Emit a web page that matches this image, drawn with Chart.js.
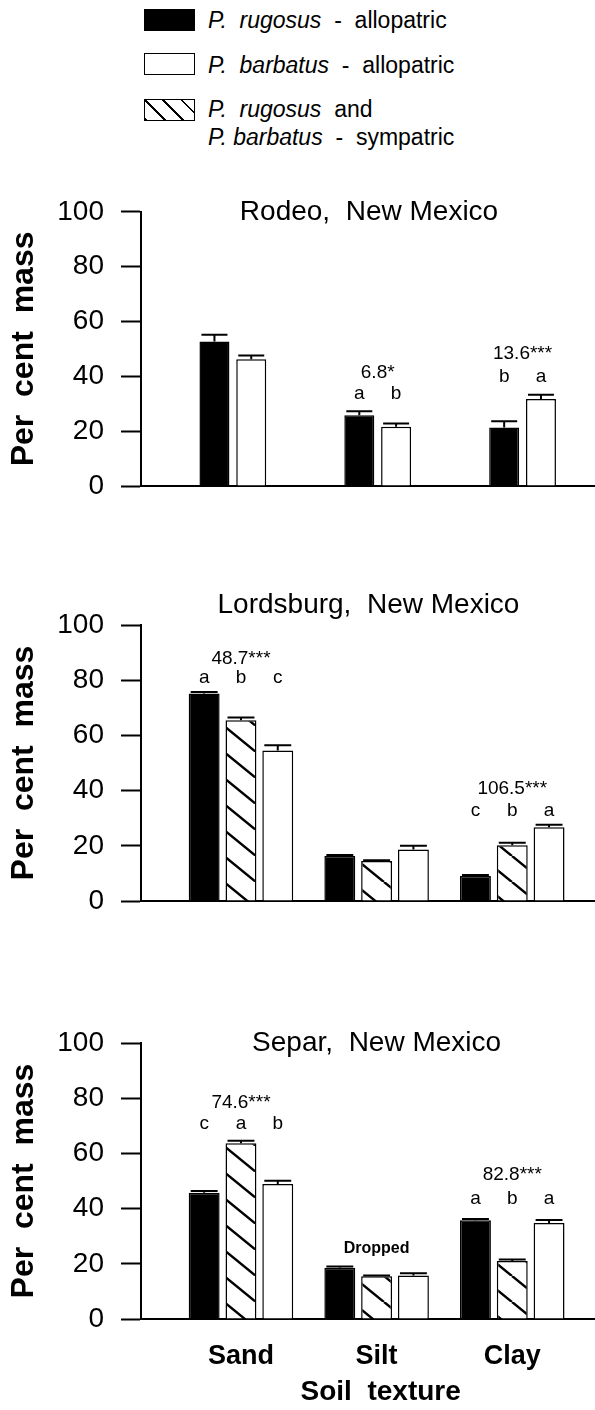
<!DOCTYPE html>
<html>
<head>
<meta charset="utf-8">
<script src="https://cdn.jsdelivr.net/npm/chart.js@4.4.1/dist/chart.umd.min.js"></script>
<style>
  body { margin: 0; background: #fff; width: 595px; height: 1410px; position: relative; overflow: hidden;
         font-family: "Liberation Sans", Arial, sans-serif; color: #000; }
  .swatch { position: absolute; left: 144px; width: 49px; height: 20px; border: 1.5px solid #000; }
  .swatch.black { background: #000; }
  .swatch.white { background: #fff; }
  .swatch.hatch { background: repeating-linear-gradient(45deg, #000 0 2px, #fff 2px 13px); }
  .legend-text { position: absolute; left: 208px; font-size: 23px; line-height: 28px; white-space: pre; }
  canvas { position: absolute; left: 0; }
</style>
</head>
<body>

<!-- legend -->
<div class="swatch black" style="top:9px"></div>
<div class="legend-text" style="top:6px"><i>P.  rugosus</i>  -  allopatric</div>
<div class="swatch white" style="top:53px"></div>
<div class="legend-text" style="top:51px"><i>P.  barbatus</i>  -  allopatric</div>
<div class="swatch hatch" style="top:99px"></div>
<div class="legend-text" style="top:95px"><i>P.  rugosus</i>  and
<i>P. barbatus</i>  -  sympatric</div>

<canvas id="rodeo" width="595" height="348" style="top:178px"></canvas>
<canvas id="lordsburg" width="595" height="371" style="top:570px"></canvas>
<canvas id="separ" width="595" height="420" style="top:990px"></canvas>

<script>
// ================================================
// DATA (per cent mass)
// ================================================

const soilTypes = ['Sand', 'Silt', 'Clay'];

// Rodeo
const rodeoRugosus = [52.7, 25.8, 21.3];
const rodeoRugosusErr = [2.5, 1.5, 2.3];
const rodeoBarbatus = [46.2, 21.6, 31.7];
const rodeoBarbatusErr = [1.4, 1.2, 1.6];

// Lordsburg
const lordsRugosus = [75.2, 16.3, 9.1];
const lordsRugosusErr = [0.5, 0.4, 0.3];
const lordsSympatric = [65.5, 14.5, 20.2];
const lordsSympatricErr = [1.0, 0.3, 0.9];
const lordsBarbatus = [54.5, 18.7, 26.7];
const lordsBarbatusErr = [1.9, 1.3, 0.9];

// Separ
const separRugosus = [45.7, 18.6, 35.8];
const separRugosusErr = [0.7, 0.4, 0.4];
const separSympatric = [63.7, 15.5, 21.0];
const separSympatricErr = [0.9, 0.3, 0.6];
const separBarbatus = [48.9, 15.8, 34.8];
const separBarbatusErr = [1.2, 0.8, 1.1];

// test statistics and letter groups
const rodeoStats = [
    { group: 1, text: '6.8*', y: 41.2, letters: ['a', 'b'], lettersY: 33.5 },
    { group: 2, text: '13.6***', y: 48.4, letters: ['b', 'a'], lettersY: 40 }
];
const lordsStats = [
    { group: 0, text: '48.7***', y: 87.7, letters: ['a', 'b', 'c'], lettersY: 80.8 },
    { group: 2, text: '106.5***', y: 40.6, letters: ['c', 'b', 'a'], lettersY: 32.6 }
];
const separStats = [
    { group: 0, text: '74.6***', y: 78.5, letters: ['c', 'a', 'b'], lettersY: 70.9 },
    { group: 2, text: '82.8***', y: 52.1, letters: ['a', 'b', 'a'], lettersY: 43.7 }
];

// ================================================
// HELPERS
// ================================================

Chart.defaults.font.family = '"Liberation Sans", Arial, sans-serif';
Chart.defaults.color = '#000';

function makeHatch() {
    const w = 32, h = 26;
    const c = document.createElement('canvas');
    c.width = w; c.height = h;
    const g = c.getContext('2d');
    g.fillStyle = '#fff';
    g.fillRect(0, 0, w, h);
    g.strokeStyle = '#000';
    g.lineWidth = 2.5;
    g.beginPath();
    [-w, 0, w].forEach(dx => {
        g.moveTo(dx, 0);
        g.lineTo(dx + w, h);
    });
    g.stroke();
    return g.createPattern(c, 'repeat');
}

const hatch = makeHatch();

function barSet(label, values, errors, fill, catPct, barPct) {
    return {
        label: label,
        data: values.map((v, i) => ({ x: i, y: v })),
        errors: errors,
        backgroundColor: fill,
        borderColor: '#000',
        borderWidth: 1.5,
        categoryPercentage: catPct,
        barPercentage: barPct
    };
}

// upper whisker + cap for each bar
const errorBars = {
    id: 'errorBars',
    afterDatasetsDraw(chart) {
        const ctx = chart.ctx;
        const y = chart.scales.y;
        ctx.save();
        ctx.strokeStyle = '#000';
        ctx.lineWidth = 2;
        chart.data.datasets.forEach((ds, di) => {
            chart.getDatasetMeta(di).data.forEach((bar, i) => {
                const p = bar.getProps(['x', 'width'], true);
                const y0 = y.getPixelForValue(ds.data[i].y);
                const y1 = y.getPixelForValue(ds.data[i].y + ds.errors[i]);
                const half = p.width / 2 - 2;
                ctx.beginPath();
                ctx.moveTo(p.x, y0);
                ctx.lineTo(p.x, y1);
                ctx.moveTo(p.x - half, y1);
                ctx.lineTo(p.x + half, y1);
                ctx.stroke();
            });
        });
        ctx.restore();
    }
};

const textFonts = {
    title: '28px "Liberation Sans", Arial, sans-serif',
    stat: '19px "Liberation Sans", Arial, sans-serif',
    note: 'bold 16px "Liberation Sans", Arial, sans-serif',
    axis: 'bold 28px "Liberation Sans", Arial, sans-serif'
};

function textLayer(notes, stats) {
    return {
        id: 'textLayer',
        afterDraw(chart) {
            const ctx = chart.ctx;
            const x = chart.scales.x, y = chart.scales.y;
            ctx.save();
            ctx.fillStyle = '#000';
            ctx.textAlign = 'center';
            ctx.textBaseline = 'middle';
            notes.forEach(n => {
                ctx.font = textFonts[n.kind];
                ctx.fillText(n.text, x.getPixelForValue(n.x), y.getPixelForValue(n.y));
            });
            ctx.font = textFonts.stat;
            stats.forEach(s => {
                ctx.fillText(s.text, x.getPixelForValue(s.group), y.getPixelForValue(s.y));
                s.letters.forEach((l, j) => {
                    const bar = chart.getDatasetMeta(j).data[s.group];
                    ctx.fillText(l, bar.x, y.getPixelForValue(s.lettersY));
                });
            });
            ctx.restore();
        }
    };
}

function buildPanel(id, o) {
    return new Chart(document.getElementById(id), {
        type: 'bar',
        data: { datasets: o.datasets },
        options: {
            responsive: false,
            animation: false,
            layout: { padding: { top: o.top, left: 0, right: 0, bottom: 0 } },
            plugins: {
                legend: { display: false },
                tooltip: { enabled: false }
            },
            scales: {
                x: {
                    type: 'linear',
                    offset: false,
                    min: o.xMin,
                    max: o.xMax,
                    afterBuildTicks: s => { s.ticks = soilTypes.map((_, i) => ({ value: i })); },
                    afterFit: s => { s.height = o.xHeight; },
                    grid: { display: false },
                    border: { color: '#000', width: 2 },
                    ticks: {
                        display: o.showLabels,
                        callback: v => soilTypes[v],
                        font: { size: 27, weight: 'bold' },
                        color: '#000',
                        padding: 13
                    }
                },
                y: {
                    min: 0,
                    max: 100,
                    afterFit: s => { s.width = 141; },
                    border: { color: '#000', width: 2 },
                    grid: {
                        drawOnChartArea: false,
                        tickLength: 20,
                        tickWidth: 2,
                        tickColor: '#000',
                        tickBorderDash: c => (c.tick && c.tick.value % 20) ? [0, 12, 8, 60] : []
                    },
                    ticks: {
                        stepSize: 10,
                        callback: v => v % 20 === 0 ? v : '',
                        font: { size: 28 },
                        color: '#000',
                        padding: 17
                    },
                    title: {
                        display: true,
                        text: 'Per  cent  mass',
                        font: { size: 32, weight: 'bold' },
                        color: '#000',
                        padding: { top: 5, bottom: 0 }
                    }
                }
            }
        },
        plugins: [errorBars, textLayer(o.notes, o.stats)]
    });
}

// ================================================
// PANELS
// ================================================

buildPanel('rodeo', {
    top: 33, xHeight: 40, xMin: -0.634, xMax: 2.5, showLabels: false,
    datasets: [
        barSet('P. rugosus - allopatric', rodeoRugosus, rodeoRugosusErr, '#000', 0.508, 0.815),
        barSet('P. barbatus - allopatric', rodeoBarbatus, rodeoBarbatusErr, '#fff', 0.508, 0.815)
    ],
    notes: [{ kind: 'title', text: 'Rodeo,  New Mexico', x: 0.94, y: 100 }],
    stats: rodeoStats
});

buildPanel('lordsburg', {
    top: 55, xHeight: 40, xMin: -0.737, xMax: 2.61, showLabels: false,
    datasets: [
        barSet('P. rugosus - allopatric', lordsRugosus, lordsRugosusErr, '#000', 0.814, 0.84),
        barSet('P. rugosus and P. barbatus - sympatric', lordsSympatric, lordsSympatricErr, hatch, 0.814, 0.84),
        barSet('P. barbatus - allopatric', lordsBarbatus, lordsBarbatusErr, '#fff', 0.814, 0.84)
    ],
    notes: [{ kind: 'title', text: 'Lordsburg,  New Mexico', x: 0.94, y: 107 }],
    stats: lordsStats
});

buildPanel('separ', {
    top: 53, xHeight: 91, xMin: -0.737, xMax: 2.61, showLabels: true,
    datasets: [
        barSet('P. rugosus - allopatric', separRugosus, separRugosusErr, '#000', 0.814, 0.84),
        barSet('P. rugosus and P. barbatus - sympatric', separSympatric, separSympatricErr, hatch, 0.814, 0.84),
        barSet('P. barbatus - allopatric', separBarbatus, separBarbatusErr, '#fff', 0.814, 0.84)
    ],
    notes: [
        { kind: 'title', text: 'Separ,  New Mexico', x: 1.0, y: 100 },
        { kind: 'note', text: 'Dropped', x: 1.0, y: 25.6 },
        { kind: 'axis', text: 'Soil  texture', x: 1.03, y: -26.6 }
    ],
    stats: separStats
});
</script>
</body>
</html>
